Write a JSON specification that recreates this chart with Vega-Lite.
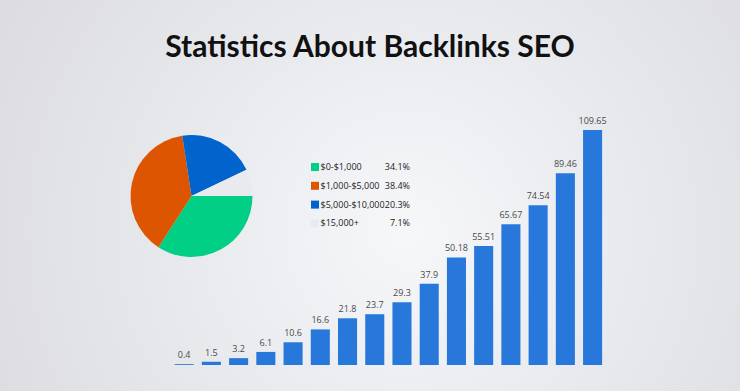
{
  "$schema": "https://vega.github.io/schema/vega-lite/v6.json",
  "width": 740,
  "height": 391,
  "padding": 0,
  "autosize": {"type": "none"},
  "background": "#e3e4e8",
  "title": {
    "text": "Statistics About Backlinks SEO",
    "font": "Lato",
    "fontSize": 30,
    "fontWeight": "bold",
    "color": "#111111",
    "anchor": "middle",
    "baseline": "alphabetic",
    "offset": -87
  },
  "config": {"view": {"stroke": null}},
  "datasets": {
    "pie": [
      {"cat": "$0-$1,000", "pct": 34.1, "pctLabel": "34.1%", "rank": 1},
      {"cat": "$1,000-$5,000", "pct": 38.4, "pctLabel": "38.4%", "rank": 2},
      {"cat": "$5,000-$10,000", "pct": 20.3, "pctLabel": "20.3%", "rank": 3},
      {"cat": "$15,000+", "pct": 7.1, "pctLabel": "7.1%", "rank": 4}
    ],
    "bars": [
      {"i": 1, "v": 0.4, "label": "0.4"},
      {"i": 2, "v": 1.5, "label": "1.5"},
      {"i": 3, "v": 3.2, "label": "3.2"},
      {"i": 4, "v": 6.1, "label": "6.1"},
      {"i": 5, "v": 10.6, "label": "10.6"},
      {"i": 6, "v": 16.6, "label": "16.6"},
      {"i": 7, "v": 21.8, "label": "21.8"},
      {"i": 8, "v": 23.7, "label": "23.7"},
      {"i": 9, "v": 29.3, "label": "29.3"},
      {"i": 10, "v": 37.9, "label": "37.9"},
      {"i": 11, "v": 50.18, "label": "50.18"},
      {"i": 12, "v": 55.51, "label": "55.51"},
      {"i": 13, "v": 65.67, "label": "65.67"},
      {"i": 14, "v": 74.54, "label": "74.54"},
      {"i": 15, "v": 89.46, "label": "89.46"},
      {"i": 16, "v": 109.65, "label": "109.65"}
    ],
    "bg": [{"bg": 1}]
  },
  "resolve": {"scale": {"x": "independent", "y": "independent", "color": "independent", "theta": "independent"}},
  "layer": [
    {
      "data": {"name": "bg"},
      "mark": {
        "type": "rect",
        "color": {
          "gradient": "radial",
          "x1": 0.55, "y1": 0.55, "r1": 0,
          "x2": 0.55, "y2": 0.55, "r2": 0.7,
          "stops": [
            {"offset": 0, "color": "#f5f7f9"},
            {"offset": 1, "color": "#d8d8de"}
          ]
        }
      },
      "encoding": {}
    },
    {
      "data": {"name": "pie"},
      "mark": {"type": "arc", "outerRadius": 61, "xOffset": -178.5, "yOffset": 0.5},
      "encoding": {
        "theta": {"field": "pct", "type": "quantitative", "scale": {"range": [1.5708, 7.854]}},
        "order": {"field": "rank"},
        "color": {
          "field": "cat",
          "type": "nominal",
          "sort": ["$0-$1,000", "$1,000-$5,000", "$5,000-$10,000", "$15,000+"],
          "scale": {
            "domain": ["$0-$1,000", "$1,000-$5,000", "$5,000-$10,000", "$15,000+"],
            "range": ["#00cf85", "#dd5500", "#0064cc", "#e9eaed"]
          },
          "legend": {
            "title": null,
            "orient": "none",
            "legendX": 310.5,
            "legendY": 162.5,
            "symbolType": "square",
            "symbolSize": 64,
            "symbolStrokeWidth": 0,
            "symbolOpacity": 1,
            "labelFont": "Open Sans",
            "labelFontSize": 9,
            "labelColor": "#222222",
            "labelOffset": 1,
            "rowPadding": 8.8
          }
        }
      }
    },
    {
      "data": {"name": "pie"},
      "mark": {"type": "text", "align": "right", "baseline": "middle", "font": "Open Sans", "fontSize": 9, "color": "#222222", "xOffset": 40},
      "encoding": {
        "y": {
          "field": "cat",
          "type": "nominal",
          "sort": ["$0-$1,000", "$1,000-$5,000", "$5,000-$10,000", "$15,000+"],
          "scale": {"type": "point", "range": [167, 223.3], "padding": 0},
          "axis": null
        },
        "text": {"field": "pctLabel", "type": "nominal"}
      }
    },
    {
      "data": {"name": "bars"},
      "encoding": {
        "x": {
          "field": "i",
          "type": "ordinal",
          "scale": {"range": [171.7, 606], "paddingInner": 0.3, "paddingOuter": 0.125, "align": 0.43},
          "axis": {"labels": false, "ticks": false, "domain": true, "domainColor": "#6f7278", "domainWidth": 1, "title": null, "offset": -26, "grid": false}
        },
        "y": {
          "field": "v",
          "type": "quantitative",
          "scale": {"domain": [0, 109.65], "range": [365, 130], "nice": false},
          "axis": null
        }
      },
      "layer": [
        {"mark": {"type": "bar", "color": "#2877db"}},
        {
          "mark": {"type": "text", "baseline": "alphabetic", "dy": -6, "font": "Open Sans", "fontSize": 9, "color": "#4a4a4a"},
          "encoding": {"text": {"field": "label", "type": "nominal"}}
        }
      ]
    }
  ]
}
